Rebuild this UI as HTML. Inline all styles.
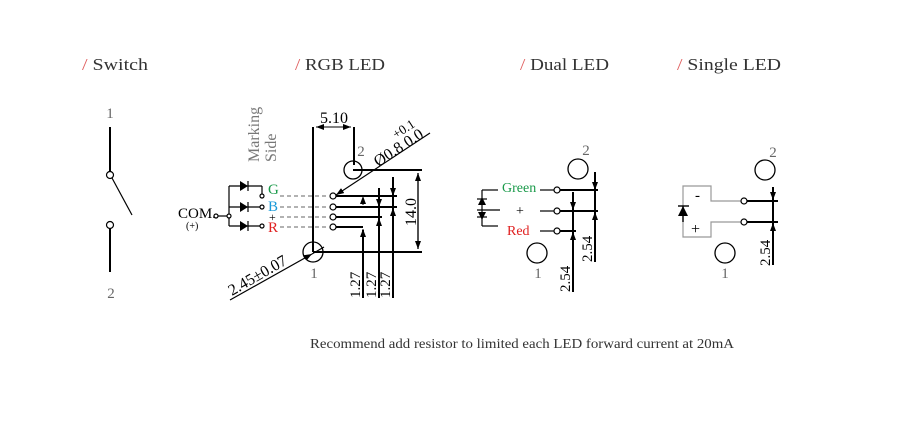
<!DOCTYPE html>
<html><head><meta charset="utf-8"><style>
html,body{margin:0;padding:0;background:#fff;}
svg{display:block;}
text{font-family:"Liberation Serif",serif;}
</style></head><body>
<svg width="900" height="421" viewBox="0 0 900 421" xmlns="http://www.w3.org/2000/svg">
<defs>
<marker id="ar" markerWidth="8" markerHeight="6" refX="8" refY="3" orient="auto" markerUnits="userSpaceOnUse"><path d="M0,0 L8,3 L0,6z" fill="#000"/></marker>
</defs>
<g font-size="17" fill="#333">
<text x="82" y="70" textLength="66" lengthAdjust="spacingAndGlyphs"><tspan fill="#e06060">/</tspan> Switch</text>
<text x="295" y="70" textLength="90" lengthAdjust="spacingAndGlyphs"><tspan fill="#e06060">/</tspan> RGB LED</text>
<text x="520" y="70" textLength="89" lengthAdjust="spacingAndGlyphs"><tspan fill="#e06060">/</tspan> Dual LED</text>
<text x="677" y="70" textLength="104" lengthAdjust="spacingAndGlyphs"><tspan fill="#e06060">/</tspan> Single LED</text>
</g>
<g fill="#666" font-size="15" text-anchor="middle">
<text x="110" y="118">1</text><text x="111" y="298">2</text>
<text x="361" y="156">2</text><text x="314" y="278">1</text>
<text x="586" y="155">2</text><text x="538" y="278">1</text>
<text x="773" y="157">2</text><text x="725" y="278">1</text>
</g>
<!-- Switch -->
<g stroke="#000" stroke-width="2" fill="none">
<line x1="110" y1="127" x2="110" y2="172"/>
<line x1="110" y1="228" x2="110" y2="272"/>
</g>
<g stroke="#000" stroke-width="1.2" fill="#fff">
<circle cx="110" cy="175" r="3.5"/><circle cx="110" cy="225" r="3.5"/>
<line x1="112" y1="178" x2="132" y2="215"/>
</g>
<!-- RGB LED -->
<g stroke="#000" fill="none">
<line x1="313" y1="127" x2="313" y2="252" stroke-width="2"/>
<line x1="354" y1="127" x2="354" y2="165" stroke-width="2"/>
<line x1="316" y1="127" x2="351" y2="127" stroke-width="1" marker-end="url(#ar)"/>
<line x1="351" y1="127" x2="316" y2="127" stroke-width="1" marker-end="url(#ar)"/>
<circle cx="353" cy="170" r="9" stroke-width="1.3"/>
<circle cx="313" cy="252" r="10" stroke-width="1.3"/>
<line x1="353" y1="170" x2="422" y2="170" stroke-width="2"/>
<line x1="313" y1="252" x2="422" y2="252" stroke-width="2"/>
<line x1="418" y1="173" x2="418" y2="249" stroke-width="1.2" marker-end="url(#ar)"/>
<line x1="418" y1="249" x2="418" y2="173" stroke-width="1.2" marker-end="url(#ar)"/>
<line x1="430" y1="133" x2="336" y2="195" stroke-width="1.2" marker-end="url(#ar)"/>
<line x1="230" y1="300" x2="312" y2="254" stroke-width="1.2" marker-end="url(#ar)"/>
<line x1="312" y1="254" x2="324" y2="247" stroke-width="1.2"/>
<g stroke-width="2">
<line x1="336" y1="196" x2="397" y2="196"/>
<line x1="336" y1="207" x2="397" y2="207"/>
<line x1="336" y1="217" x2="382" y2="217"/>
<line x1="336" y1="227" x2="363" y2="227"/>
<line x1="363" y1="230" x2="363" y2="298"/>
<line x1="379" y1="188" x2="379" y2="298"/>
<line x1="393" y1="177" x2="393" y2="298"/>
</g>
<line x1="363" y1="205" x2="363" y2="196" stroke-width="1" marker-end="url(#ar)"/>
<line x1="363" y1="240" x2="363" y2="229" stroke-width="1" marker-end="url(#ar)"/>
<line x1="379" y1="200" x2="379" y2="207" stroke-width="1" marker-end="url(#ar)"/>
<line x1="379" y1="230" x2="379" y2="218" stroke-width="1" marker-end="url(#ar)"/>
<line x1="393" y1="187" x2="393" y2="196" stroke-width="1" marker-end="url(#ar)"/>
<line x1="393" y1="220" x2="393" y2="208" stroke-width="1" marker-end="url(#ar)"/>
<g stroke="#666" stroke-width="1" stroke-dasharray="4,3">
<line x1="280" y1="196" x2="329" y2="196"/><line x1="280" y1="207" x2="329" y2="207"/>
<line x1="280" y1="217" x2="329" y2="217"/><line x1="280" y1="227" x2="329" y2="227"/>
</g>
<g stroke-width="1.2" fill="#fff">
<circle cx="333" cy="196" r="3"/><circle cx="333" cy="207" r="3"/><circle cx="333" cy="217" r="3"/><circle cx="333" cy="227" r="3"/>
</g>
<g stroke-width="1.2">
<line x1="218" y1="216" x2="229" y2="216"/>
<line x1="229" y1="186" x2="229" y2="226"/>
<line x1="229" y1="186" x2="262" y2="186"/><line x1="262" y1="186" x2="262" y2="196"/>
<line x1="229" y1="207" x2="262" y2="207"/>
<line x1="229" y1="226" x2="262" y2="226"/>
<line x1="248" y1="181" x2="248" y2="191"/><line x1="248" y1="202" x2="248" y2="212"/><line x1="248" y1="221" x2="248" y2="231"/>
</g>
</g>
<g fill="#000">
<path d="M240,181 L248,186 L240,191z"/><path d="M240,202 L248,207 L240,212z"/><path d="M240,221 L248,226 L240,231z"/>
</g>
<g stroke="#000" stroke-width="1.2" fill="#fff">
<circle cx="216" cy="216" r="2"/><circle cx="229" cy="216" r="2"/>
<circle cx="262" cy="196" r="2"/><circle cx="262" cy="207" r="2"/><circle cx="262" cy="226" r="2"/>
</g>
<g font-size="15">
<text x="268" y="194" fill="#1a9a4a">G</text>
<text x="268" y="211" fill="#1a9ad8">B</text>
<text x="269" y="221" fill="#000" font-size="12">+</text>
<text x="268" y="232" fill="#e02020">R</text>
<text x="178" y="218" fill="#000">COM.</text>
<text x="186" y="229" fill="#000" font-size="10">(+)</text>
<text x="334" y="123" text-anchor="middle" fill="#000" font-size="16">5.10</text>
<text transform="translate(416,212) rotate(-90)" text-anchor="middle" fill="#000" font-size="16">14.0</text>
<text transform="translate(378,167) rotate(-33)" fill="#000" font-size="16">Ø0.8 0.0</text>
<text transform="translate(396,139) rotate(-33)" fill="#000" font-size="13">+0.1</text>
<text transform="translate(232,296) rotate(-30)" fill="#000" font-size="16">2.45±0.07</text>
<text transform="translate(360,298) rotate(-90)" fill="#000">1.27</text>
<text transform="translate(376,298) rotate(-90)" fill="#000">1.27</text>
<text transform="translate(390,298) rotate(-90)" fill="#000">1.27</text>
<text transform="translate(259,162) rotate(-90)" fill="#777" font-size="16">Marking</text>
<text transform="translate(276,162) rotate(-90)" fill="#777" font-size="16">Side</text>
</g>
<!-- Dual LED -->
<g stroke="#000" fill="none">
<circle cx="578" cy="169" r="10" stroke-width="1.3"/>
<circle cx="537" cy="253" r="10" stroke-width="1.3"/>
<g stroke-width="2">
<line x1="560" y1="190" x2="598" y2="190"/><line x1="560" y1="211" x2="598" y2="211"/><line x1="560" y1="231" x2="576" y2="231"/>
<line x1="595" y1="172" x2="595" y2="262"/><line x1="573" y1="192" x2="573" y2="292"/>
</g>
<g stroke-width="1.2">
<line x1="540" y1="190" x2="554" y2="190"/><line x1="540" y1="211" x2="554" y2="211"/><line x1="540" y1="231" x2="554" y2="231"/>
<line x1="482" y1="190" x2="498" y2="190"/><line x1="482" y1="190" x2="482" y2="226"/><line x1="482" y1="226" x2="498" y2="226"/>
<line x1="477" y1="210" x2="500" y2="210"/>
<line x1="477" y1="199" x2="487" y2="199"/><line x1="477" y1="217" x2="487" y2="217"/>
</g>
<line x1="595" y1="181" x2="595" y2="190" stroke-width="1" marker-end="url(#ar)"/>
<line x1="595" y1="222" x2="595" y2="212" stroke-width="1" marker-end="url(#ar)"/>
<line x1="573" y1="200" x2="573" y2="210" stroke-width="1" marker-end="url(#ar)"/>
<line x1="573" y1="242" x2="573" y2="232" stroke-width="1" marker-end="url(#ar)"/>
<g stroke-width="1.2" fill="#fff"><circle cx="557" cy="190" r="3"/><circle cx="557" cy="211" r="3"/><circle cx="557" cy="231" r="3"/></g>
</g>
<path d="M478,205 L482,197 L486,205z M478,212 L482,220 L486,212z" fill="#000"/>
<g font-size="14">
<text x="502" y="192" fill="#1a9a4a">Green</text>
<text x="516" y="215" fill="#000">+</text>
<text x="507" y="235" fill="#e02020">Red</text>
</g>
<g font-size="15" fill="#000">
<text transform="translate(592,262) rotate(-90)">2.54</text>
<text transform="translate(570,292) rotate(-90)">2.54</text>
<text transform="translate(770,266) rotate(-90)">2.54</text>
</g>
<!-- Single LED -->
<g stroke="#000" fill="none">
<circle cx="765" cy="170" r="10" stroke-width="1.3"/>
<circle cx="725" cy="253" r="10" stroke-width="1.3"/>
<path d="M741,201 L711,201 L711,186 L683,186 L683,237 L711,237 L711,222 L741,222" stroke="#999" stroke-width="1.2"/>
<g stroke-width="2">
<line x1="747" y1="201" x2="778" y2="201"/><line x1="747" y1="222" x2="778" y2="222"/>
<line x1="773" y1="187" x2="773" y2="265"/>
</g>
<line x1="773" y1="190" x2="773" y2="200" stroke-width="1" marker-end="url(#ar)"/>
<line x1="773" y1="234" x2="773" y2="223" stroke-width="1" marker-end="url(#ar)"/>
<line x1="678" y1="206" x2="689" y2="206" stroke-width="1.4"/>
<line x1="683" y1="206" x2="683" y2="222" stroke-width="1.4"/>
<g stroke-width="1.2" fill="#fff"><circle cx="744" cy="201" r="3"/><circle cx="744" cy="222" r="3"/></g>
</g>
<path d="M678,216 L683,206 L688,216z" fill="#000"/>
<text x="695" y="200" font-size="15" fill="#000">-</text>
<text x="691" y="234" font-size="16" fill="#000">+</text>
<text x="310" y="348" font-size="14" fill="#333" textLength="424" lengthAdjust="spacingAndGlyphs">Recommend add resistor to limited each LED forward current at 20mA</text>
</svg>
</body></html>
